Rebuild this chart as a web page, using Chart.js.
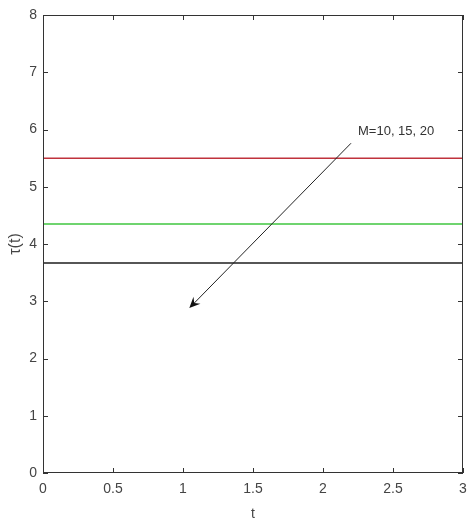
<!DOCTYPE html>
<html>
<head>
<meta charset="utf-8">
<script src="https://cdn.jsdelivr.net/npm/chart.js@4"></script>
<style>
  html, body { margin: 0; padding: 0; background: #fff; }
  #wrap { width: 468px; height: 527px; }
</style>
</head>
<body>
<div id="wrap"><canvas id="chart"></canvas></div>
<script>
// time samples and tau(t) for each M
var t = [0, 3];
var tauM10 = [5.5, 5.5];
var tauM15 = [4.35, 4.35];
var tauM20 = [3.67, 3.67];
var xTicks = [0, 0.5, 1, 1.5, 2, 2.5, 3];
var yTicks = [0, 1, 2, 3, 4, 5, 6, 7, 8];

// annotation, in data units
var noteText = "M=10, 15, 20";
var noteAt = [2.25, 5.96];
var arrowFrom = [2.2, 5.76];
var arrowTo = [1.045, 2.88];

var FONT = "'Liberation Sans', Arial, sans-serif";

function toPoints(xs, ys) {
  var pts = [];
  for (let i = 0; i < xs.length; i++) pts.push({ x: xs[i], y: ys[i] });
  return pts;
}

const boxPlugin = {
  id: "box",
  afterDraw(chart) {
    const c = chart.ctx;
    const a = chart.chartArea;
    const xs = chart.scales.x;
    const ys = chart.scales.y;
    c.save();
    c.strokeStyle = "#333";
    c.lineWidth = 1;
    c.strokeRect(a.left + 0.5, a.top + 0.5, a.right - a.left - 1, a.bottom - a.top - 1);
    c.beginPath();
    xTicks.forEach((v) => {
      const px = Math.round(xs.getPixelForValue(v)) + 0.5;
      c.moveTo(px, a.bottom); c.lineTo(px, a.bottom - 5);
      c.moveTo(px, a.top); c.lineTo(px, a.top + 5);
    });
    yTicks.forEach((v) => {
      const py = Math.round(ys.getPixelForValue(v)) + 0.5;
      c.moveTo(a.left, py); c.lineTo(a.left + 5, py);
      c.moveTo(a.right, py); c.lineTo(a.right - 5, py);
    });
    c.stroke();

    // arrow
    const x0 = xs.getPixelForValue(arrowFrom[0]), y0 = ys.getPixelForValue(arrowFrom[1]);
    const x1 = xs.getPixelForValue(arrowTo[0]), y1 = ys.getPixelForValue(arrowTo[1]);
    const ang = Math.atan2(y1 - y0, x1 - x0);
    c.strokeStyle = "#222";
    c.beginPath();
    c.moveTo(x0, y0);
    c.lineTo(x1 - 6 * Math.cos(ang), y1 - 6 * Math.sin(ang));
    c.stroke();
    c.fillStyle = "#111";
    c.beginPath();
    c.moveTo(x1, y1);
    c.lineTo(x1 - 12 * Math.cos(ang - 0.42), y1 - 12 * Math.sin(ang - 0.42));
    c.lineTo(x1 - 7 * Math.cos(ang), y1 - 7 * Math.sin(ang));
    c.lineTo(x1 - 12 * Math.cos(ang + 0.42), y1 - 12 * Math.sin(ang + 0.42));
    c.closePath();
    c.fill();

    c.fillStyle = "#333";
    c.font = "13px " + FONT;
    c.textBaseline = "middle";
    c.fillText(noteText, xs.getPixelForValue(noteAt[0]), ys.getPixelForValue(noteAt[1]));
    c.restore();
  },
};

const tickFont = { size: 14, family: FONT };

new Chart(document.getElementById("chart"), {
  type: "line",
  data: {
    datasets: [
      { data: toPoints(t, tauM10), borderColor: "#c0323c" },
      { data: toPoints(t, tauM15), borderColor: "#3fc63f" },
      { data: toPoints(t, tauM20), borderColor: "#1e1e1e" },
    ],
  },
  options: {
    maintainAspectRatio: false,
    animation: false,
    layout: { padding: { top: 15, right: 3, bottom: 0, left: 0 } },
    elements: {
      point: { pointStyle: false },
      line: { borderWidth: 1.5, tension: 0 },
    },
    scales: {
      x: {
        type: "linear",
        min: 0,
        max: 3,
        afterFit: (s) => { s.height = 54; s.paddingRight = 0; s.paddingLeft = 0; },
        afterBuildTicks: (s) => { s.ticks = xTicks.map((v) => ({ value: v })); },
        ticks: { color: "#444", font: tickFont, padding: 8, maxRotation: 0, callback: (v) => String(v) },
        grid: { display: false, drawTicks: false },
        border: { display: false },
        title: { display: true, text: "t", color: "#444", font: tickFont, padding: { top: 0, bottom: 4 } },
      },
      y: {
        min: 0,
        max: 8,
        afterFit: (s) => { s.width = 43; s.paddingTop = 0; s.paddingBottom = 0; },
        afterBuildTicks: (s) => { s.ticks = yTicks.map((v) => ({ value: v })); },
        ticks: { color: "#444", font: tickFont, padding: 6, callback: (v) => String(v) },
        grid: { display: false, drawTicks: false },
        border: { display: false },
        title: { display: true, text: "τ(t)", color: "#444", font: { size: 16, family: FONT }, padding: { top: 6, bottom: 0 } },
      },
    },
    plugins: {
      legend: { display: false },
      tooltip: { enabled: false },
    },
  },
  plugins: [boxPlugin],
});
</script>
</body>
</html>
